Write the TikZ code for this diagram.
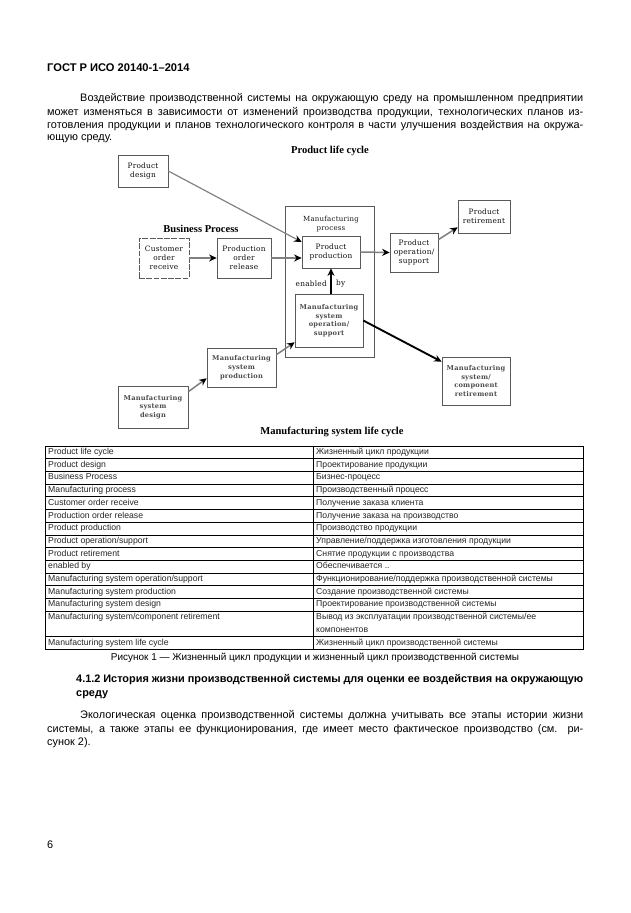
\documentclass[tikz,border=0pt]{standalone}
\usepackage{fontspec}
\setmainfont{Liberation Sans}
\newfontfamily\diagfont[LetterSpace=3]{DejaVu Serif}
\newfontfamily\titlefont{Liberation Serif}
\usetikzlibrary{arrows.meta}
\newcommand\pxl{0.03cm}

\tikzset{
  stagebox/.style 2 args={draw=black!65, line width=0.5pt, minimum width=#1*\pxl, minimum height=#2*\pxl,
    inner sep=0pt, align=center, font=\diagfont\fontsize{6.3}{7.6}\selectfont, text=black!95},
  sysbox/.style 2 args={stagebox={#1}{#2}, font=\diagfont\bfseries\fontsize{5.7}{7.4}\selectfont, text=black!70},
  flowarrow/.style={draw=black!50, line width=1.3pt, -{Stealth[color=black, length=6.5pt, width=6pt]}},
  enablearrow/.style={draw=black, line width=1.6pt, -{Stealth[length=6.5pt, width=6pt]}},
  cycletitle/.style={font=\titlefont\bfseries\fontsize{9}{10}\selectfont},
  bodyline/.style={anchor=west, inner sep=0pt, font=\fontsize{9.3}{11}\selectfont},
  cell/.style={anchor=west, inner sep=0pt, text height=5.4pt, text depth=1.6pt, font=\fontsize{7.4}{9.5}\selectfont, text=black!85}
}

\begin{document}
\begin{tikzpicture}[x=\pxl, y=-\pxl]
		\fill[white] (0,0) rectangle (630,913);
		\useasboundingbox (0,0) rectangle (630,913);
		\node[bodyline, font=\bfseries\fontsize{9.5}{11}\selectfont] (gost) at (47,68) {ГОСТ Р ИСО 20140-1–2014};
		\node[bodyline] (intro1) at (80,99) {\makebox[15.09cm][s]{Воздействие производственной системы на окружающую среду на промышленном предприятии}};
		\node[bodyline] (intro2) at (47,113) {\makebox[16.08cm][s]{может изменяться в зависимости от изменений производства продукции, технологических планов из-}};
		\node[bodyline] (intro3) at (47,126) {\makebox[16.08cm][s]{готовления продукции и планов технологического контроля в части улучшения воздействия на окружа-}};
		\node[bodyline] (intro4) at (47,139) {ющую среду.};

		\begin{scope}
			\node[cycletitle] (plc) at (330,151) {Product life cycle};
			\node[cycletitle] (bp) at (201,229) {Business Process};
			\node[cycletitle] (mslc) at (332,432) {Manufacturing system life cycle};
			\node[stagebox={50}{32}] (pdes) at (143,171) {Product\\design};
			\node[stagebox={50}{40}, dash pattern=on 5pt off 1.2pt] (cor) at (164,258) {Customer\\order\\receive};
			\node[stagebox={54}{40}] (por) at (244,258) {Production\\order\\release};
			\node[draw=black!65, line width=0.5pt, minimum width=89*\pxl, minimum height=151*\pxl] (mproc) at (329.5,281.5) {};
			\node[font=\diagfont\fontsize{6}{7.4}\selectfont, align=center, text=black!90] (mproclbl) at (331,224) {Manufacturing\\process};
			\node[stagebox={58}{32}] (pprod) at (331,252) {Product\\production};
			\node[stagebox={48}{39}] (popsup) at (414,252.5) {Product\\operation/\\support};
			\node[stagebox={52}{33}] (pret) at (484,216.5) {Product\\retirement};
			\node[sysbox={68}{53}] (msop) at (329,320.5) {Manufacturing\\system\\operation/\\support};
			\node[sysbox={69}{39}] (msprod) at (241.5,367.5) {Manufacturing\\system\\production};
			\node[sysbox={70}{42}] (msdes) at (153,407) {Manufacturing\\system\\design};
			\node[sysbox={68}{48}] (mscr) at (476,381) {Manufacturing\\system/\\component\\retirement};
			\node[anchor=east, inner sep=0pt, font=\diagfont\fontsize{6.3}{7.6}\selectfont, text=black!95] (enab) at (327,284) {enabled};
			\node[anchor=west, inner sep=0pt, font=\diagfont\fontsize{6.3}{7.6}\selectfont, text=black!95] (by) at (336,284) {by};
			\draw[flowarrow, line width=1pt] (pdes.east) -- ([yshift=10*\pxl]pprod.west);
			\draw[flowarrow, line width=1.8pt] (cor.east) -- (por.west);
			\draw[flowarrow] (por.east) -- (por.east -| pprod.west);
			\draw[flowarrow] (pprod.east) -- (popsup.west);
			\draw[flowarrow] ([yshift=-7*\pxl]popsup.north east) -- ([yshift=6*\pxl]pret.south west);
			\draw[enablearrow] (pprod.south |- msop.north) -- (pprod.south);
			\draw[enablearrow] (msop.east) -- ([yshift=-5*\pxl]mscr.north west);
			\draw[flowarrow] ([yshift=-6*\pxl]msdes.north east) -- ([yshift=9*\pxl]msprod.south west);
			\draw[flowarrow] ([yshift=-7*\pxl]msprod.north east) -- ([yshift=5*\pxl]msop.south west);
		\end{scope}

		\draw[line width=0.6pt] (45,446) rectangle (583,649);
		\draw[line width=0.6pt] (313,446) -- (313,649);
		\foreach \k in {1,...,13,15}
			\draw[line width=0.6pt] (45,{446+\k*12.7}) -- (583,{446+\k*12.7});
		\foreach \en/\ru [count=\i] in {Product life cycle/Жизненный цикл продукции,
			Product design/Проектирование продукции,
			Business Process/Бизнес-процесс,
			Manufacturing process/Производственный процесс,
			Customer order receive/Получение заказа клиента,
			Production order release/Получение заказа на производство,
			Product production/Производство продукции,
			{Product operation/support}/{Управление/поддержка изготовления продукции},
			Product retirement/Снятие продукции с производства,
			enabled by/Обеспечивается ..,
			{Manufacturing system operation/support}/{Функционирование/поддержка производственной системы},
			Manufacturing system production/Создание производственной системы,
			Manufacturing system design/Проектирование производственной системы}{
			\node[cell] (en\i) at (48,{446+(\i-0.5)*12.7}) {\en};
			\node[cell] (ru\i) at (316,{446+(\i-0.5)*12.7}) {\ru};
		}
		\node[cell] (en14) at (48,617.5) {Manufacturing system/component retirement};
		\node[cell] (ru14) at (316,617.5) {Вывод из эксплуатации производственной системы/ее};
		\node[cell] (ru14b) at (316,630) {компонентов};
		\node[cell] (en15) at (48,642.9) {Manufacturing system life cycle};
		\node[cell] (ru15) at (316,642.9) {Жизненный цикл производственной системы};

		\node[inner sep=0pt, font=\fontsize{8.5}{10}\selectfont] (caption) at (315,658) {Рисунок 1 — Жизненный цикл продукции и жизненный цикл производственной системы};
		\node[bodyline, font=\bfseries\fontsize{9.3}{11}\selectfont] (head1) at (76,680) {\makebox[15.21cm][s]{4.1.2 История жизни производственной системы для оценки ее воздействия на окружающую}};
		\node[bodyline, font=\bfseries\fontsize{9.3}{11}\selectfont] (head2) at (76,695) {среду};
		\node[bodyline] (eco1) at (80,716) {\makebox[15.09cm][s]{Экологическая оценка производственной системы должна учитывать все этапы истории жизни}};
		\node[bodyline] (eco2) at (47,730) {\makebox[16.08cm][s]{системы, а также этапы ее функционирования, где имеет место фактическое производство (см. ри-}};
		\node[bodyline] (eco3) at (47,743) {сунок 2).};
		\node[bodyline] (pagenum) at (47,845) {6};
	\end{tikzpicture}
\end{document}
